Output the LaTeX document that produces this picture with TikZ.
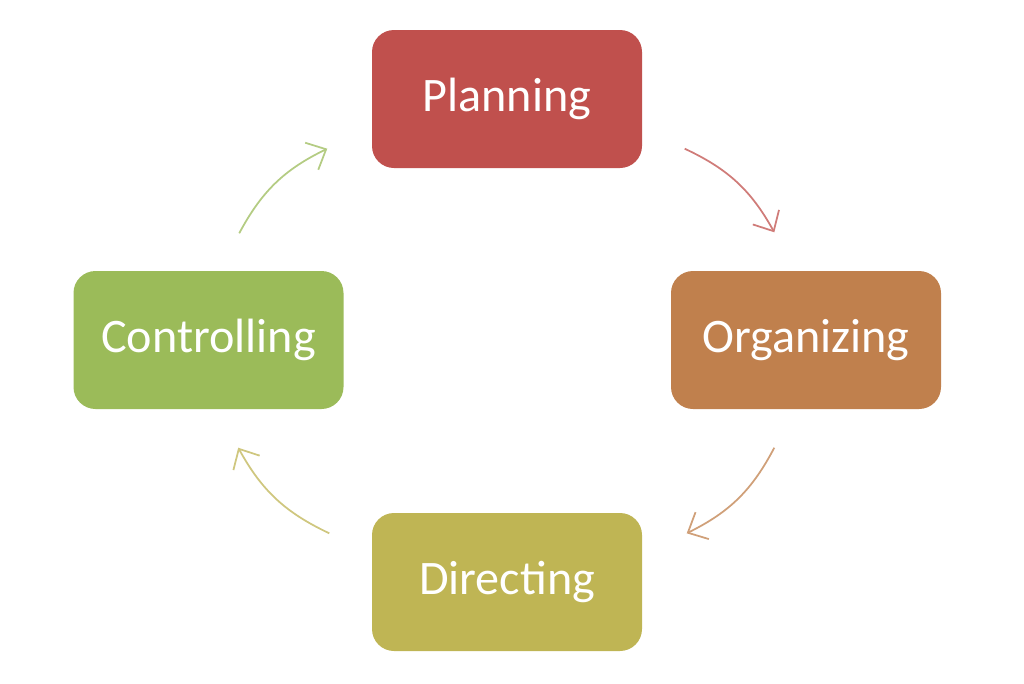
\documentclass[tikz,border=0pt]{standalone}
\usepackage{fontspec}
\setmainfont{Carlito}
\usetikzlibrary{arrows.meta,calc}
\definecolor{plan}{RGB}{192,80,77}
\definecolor{orga}{RGB}{192,128,77}
\definecolor{dire}{RGB}{191,181,84}
\definecolor{ctrl}{RGB}{155,187,89}
\colorlet{plan1}{plan!75!white}
\colorlet{orga1}{orga!75!white}
\colorlet{dire1}{dire!75!white}
\colorlet{ctrl1}{ctrl!75!white}

\begin{document}
\begin{tikzpicture} [ %
  bx/.style={rectangle, rounded corners=0.22cm, minimum width=2.7cm, minimum height=1.38cm, %
    text=white, font=\fontsize{13.7}{16}\selectfont, inner sep=0pt}, %
  cy/.style={-{Straight Barb[length=1.6mm, width=3mm]}, thin, line width=0.5pt}] %
\useasboundingbox (0,0) rectangle (10.24,6.83); %
\node [bx, fill=plan] (plan) at (5.07,5.84) {Planning}; %
\node [bx, fill=orga] (orga) at (8.06,3.43) {Organizing}; %
\node [bx, fill=dire] (dire) at (5.07,1.01) {Directing}; %
\node [bx, fill=ctrl] (ctrl) at (2.085,3.43) {Controlling}; %
 %
\coordinate (p1) at ($(plan.south east)+(0.42,0.20)$); %
\coordinate (o0) at ($(orga.north west)+(1.04,0.38)$); %
\coordinate (o1) at ($(orga.south west)+(1.04,-0.38)$); %
\coordinate (d0) at ($(dire.north east)+(0.44,-0.21)$); %
\coordinate (d1) at ($(dire.north west)+(-0.42,-0.21)$); %
\coordinate (c0) at ($(ctrl.south east)+(-1.06,-0.38)$); %
\coordinate (c1) at ($(ctrl.north east)+(-1.05,0.37)$); %
\coordinate (p0) at ($(plan.south west)+(-0.44,0.20)$); %
 %
\draw [cy, plan1] (p1) to[bend left=18] (o0); %
\draw [cy, orga1] (o1) to[bend left=18] (d0); %
\draw [cy, dire1] (d1) to[bend left=18] (c0); %
\draw [cy, ctrl1] (c1) to[bend left=18] (p0); %
\end{tikzpicture}
\end{document}
